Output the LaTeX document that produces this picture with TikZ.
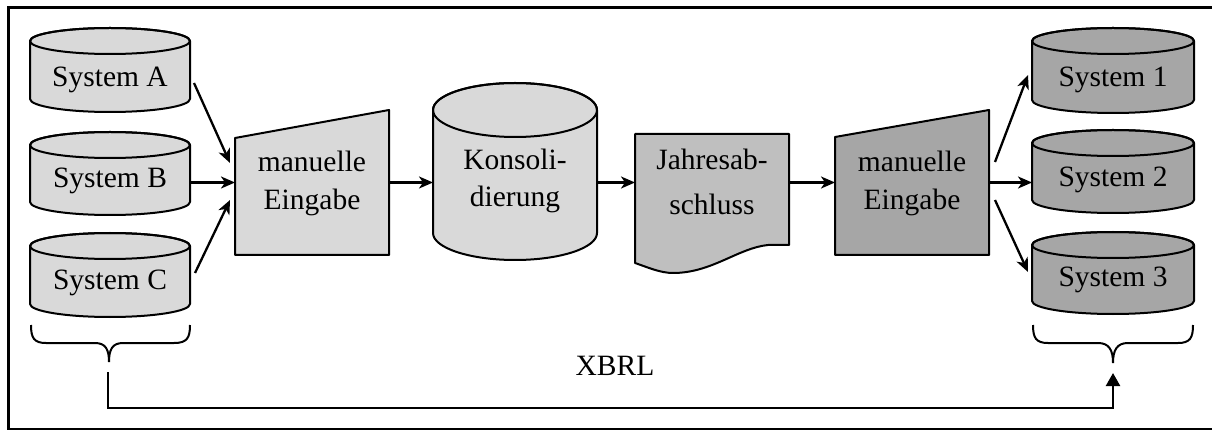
\documentclass[tikz,border=0pt]{standalone}
\usepackage{fontspec}
\setmainfont{Liberation Serif}
\usetikzlibrary{arrows.meta}

\definecolor{lightfill}{gray}{0.85}
\definecolor{midfill}{gray}{0.75}
\definecolor{darkfill}{gray}{0.65}

\tikzset{
  outline/.style={draw=black, line width=2pt, line join=round},
  area/.style={draw=none, inner sep=0pt, outer sep=0pt},
  flow/.style={line width=2.3pt, -{Stealth[length=14pt, width=12pt, inset=4pt]}},
  back/.style={line width=2.3pt, -{Triangle[length=13pt, width=14pt]}},
  txt/.style={font=\fontsize{29.5}{34}\selectfont, inner sep=0pt, anchor=base},
  bracepath/.style={draw=black, line width=2pt},
}

% database drum: name, centre x, top y, bottom y, x radius, y radius, fill
\newcommand\dbdrum[7]{%
  \node[area, minimum width={2*#5pt}, minimum height={(#4-#3)*1pt}] (#1) at (#2, {(#3+#4)/2}) {};
  \path[outline, fill=#7] (#2-#5, #3+#6) -- (#2-#5, #4-#6)
    arc[start angle=180, end angle=360, x radius=#5pt, y radius=#6pt]
    -- (#2+#5, #3+#6)
    arc[start angle=0, end angle=180, x radius=#5pt, y radius=#6pt] -- cycle;
  \draw[outline] (#2, #3+#6) ellipse[x radius=#5pt, y radius=#6pt];
}

\begin{document}
\begin{tikzpicture}[x=1pt, y=-1pt]
\useasboundingbox (0,0) rectangle (1212,430);

% outer frame (its right edge lies beyond the page)
\draw[line width=2.5pt] (8.5,7.5) rectangle (1216,429);

% source systems
\dbdrum{sA}{110}{28}{112}{80}{13}{lightfill}
\dbdrum{sB}{110}{132}{215}{80}{13}{lightfill}
\dbdrum{sC}{110}{233}{317}{80}{13}{lightfill}
\node[txt] (tA) at (110,87) {System A};
\node[txt] (tB) at (110,188) {System B};
\node[txt] (tC) at (110,289) {System C};

% first manual input
\node[area, minimum width=154pt, minimum height=145pt] (me1) at (312,182.5) {};
\path[outline, fill=lightfill] (235,138) -- (389,110) -- (389,255) -- (235,255) -- cycle;
\node[txt] (me1a) at (312,172) {manuelle};
\node[txt] (me1b) at (312,210) {Eingabe};

% consolidation store
\dbdrum{kons}{515}{83}{260}{82}{27}{lightfill}
\node[txt] (konsa) at (515,170) {Konsoli-};
\node[txt] (konsb) at (515,207) {dierung};

% annual statement document
\node[area, minimum width=154pt, minimum height=139pt] (doc) at (712,203.5) {};
\path[outline, fill=midfill] (635,134) -- (789,134) -- (789,245) -- (768,245)
  .. controls (738,248) and (712,273) .. (673,273)
  .. controls (660,273) and (647,267) .. (635,263) -- cycle;
\node[txt] (doca) at (712,170) {Jahresab-};
\node[txt] (docb) at (712,215) {schluss};

% second manual input
\node[area, minimum width=154pt, minimum height=145pt] (me2) at (912,182.5) {};
\path[outline, fill=darkfill] (835,137) -- (989,110) -- (989,255) -- (835,255) -- cycle;
\node[txt] (me2a) at (912,172) {manuelle};
\node[txt] (me2b) at (912,210) {Eingabe};

% target systems
\dbdrum{s1}{1113}{28}{113}{81}{13}{darkfill}
\dbdrum{s2}{1113}{130}{213}{81}{13}{darkfill}
\dbdrum{s3}{1113}{232}{314}{81}{13}{darkfill}
\node[txt] (t1) at (1113,87) {System 1};
\node[txt] (t2) at (1113,187) {System 2};
\node[txt] (t3) at (1113,287) {System 3};

% flow arrows
\draw[flow] ([xshift=4pt, yshift=-13pt]sA.east) -- ([xshift=-5pt, yshift=19.5pt]me1.west);
\draw[flow] (sB.east |- me1) -- (me1.west);
\draw[flow] ([xshift=5pt, yshift=2pt]sC.east) -- ([xshift=-5pt, yshift=-17.5pt]me1.west);
\draw[flow] (me1.east) -- (me1.east -| kons.west);
\draw[flow] (kons.east |- me1) -- (doc.west |- me1);
\draw[flow] (doc.east |- me2) -- (me2.west);
\draw[flow] ([xshift=6pt, yshift=20.5pt]me2.east) -- ([xshift=-4pt, yshift=-4.5pt]s1.west);
\draw[flow] (me2.east) -- (me2.east -| s2.west);
\draw[flow] ([xshift=6pt, yshift=-17.5pt]me2.east) -- ([xshift=-4pt, yshift=1pt]s3.west);

% braces under the system groups
\draw[bracepath] (31,325) .. controls (31,338) and (34,343) .. (46,343) -- (95,343)
  .. controls (106,343) and (109,350) .. (109,362)
  .. controls (109,350) and (112,343) .. (123,343) -- (174,343)
  .. controls (187,343) and (190,338) .. (190,325);
\draw[bracepath] (1033,325) .. controls (1033,338) and (1036,343) .. (1048,343) -- (1098,343)
  .. controls (1109,343) and (1113,350) .. (1113,363)
  .. controls (1113,350) and (1117,343) .. (1128,343) -- (1178,343)
  .. controls (1190,343) and (1193,338) .. (1193,325);

% XBRL exchange path
\coordinate (xl) at (108,372);
\coordinate (xc) at (1113,408);
\coordinate (xr) at (1113,373);
\draw[back] (xl) |- (xc) -- (xr);
\node[txt] (xbrl) at (615,375) {XBRL};
\end{tikzpicture}
\end{document}
